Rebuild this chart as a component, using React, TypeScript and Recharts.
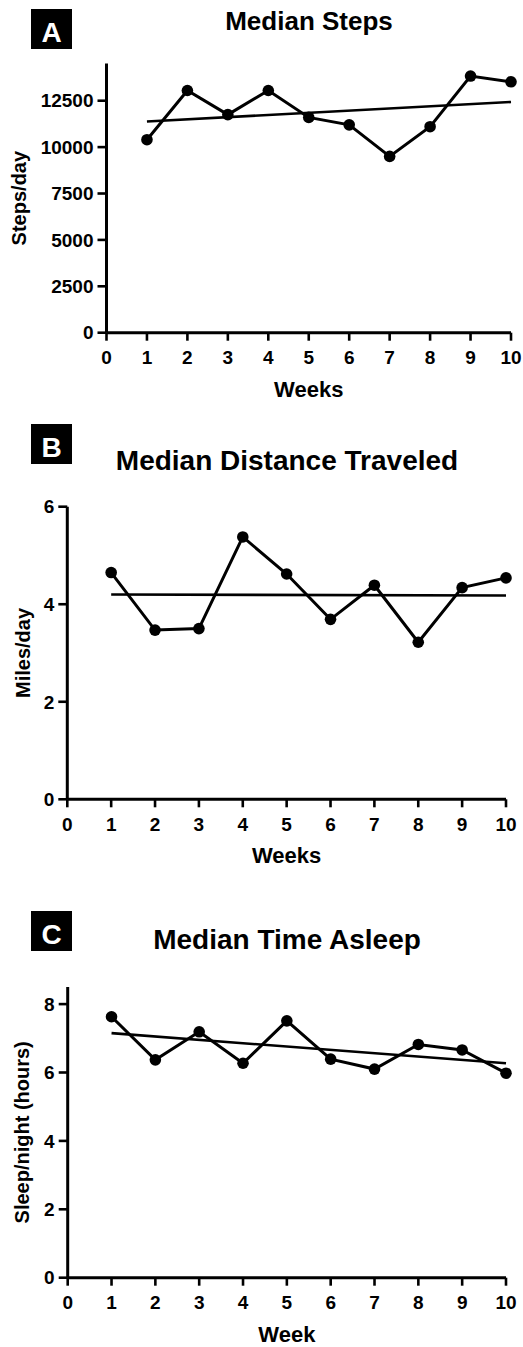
import React from 'react';
import { LineChart, Line, XAxis, YAxis } from 'recharts';

const weeks = [1, 2, 3, 4, 5, 6, 7, 8, 9, 10];
const weekTicks = [0, 1, 2, 3, 4, 5, 6, 7, 8, 9, 10];
const trendWeeks = [1, 10];

const medianSteps = [10400, 13050, 11750, 13050, 11600, 11200, 9500, 11100, 13830, 13520];
const stepsTrend = [11380, 12430];
const stepsTicks = [0, 2500, 5000, 7500, 10000, 12500];

const medianMiles = [4.65, 3.47, 3.5, 5.38, 4.62, 3.69, 4.39, 3.22, 4.34, 4.54];
const milesTrend = [4.2, 4.18];
const milesTicks = [0, 2, 4, 6];

const medianSleep = [7.63, 6.37, 7.19, 6.27, 7.51, 6.39, 6.1, 6.82, 6.66, 5.98];
const sleepTrend = [7.15, 6.27];
const sleepTicks = [0, 2, 4, 6, 8];

const FONT = '"Liberation Sans", Arial, Helvetica, sans-serif';

const toSeries = (vals: number[]) => weeks.map((w, i) => ({ week: w, v: vals[i] }));
const toTrend = (vals: number[]) => trendWeeks.map((w, i) => ({ week: w, v: vals[i] }));

type PanelProps = {
  top: number;
  height: number;
  margin: { top: number; right: number; bottom: number; left: number };
  yWidth: number;
  xHeight: number;
  xLabelOffset: number;
  yLabelOffset: number;
  domain: [number, number];
  yTicks: number[];
  values: number[];
  trend: number[];
  xLabel: string;
  yLabel: string;
};

const tickStyle = { fill: '#000', fontSize: 19, fontWeight: 700, fontFamily: FONT };

function Panel(p: PanelProps) {
  return (
    <div style={{ position: 'absolute', left: 0, top: p.top, width: 523, height: p.height }}>
      <LineChart width={523} height={p.height} margin={p.margin} data={toSeries(p.values)}>
        <XAxis
          dataKey="week"
          type="number"
          domain={[0, 10]}
          ticks={weekTicks}
          interval={0}
          height={p.xHeight}
          axisLine={{ stroke: '#000', strokeWidth: 3 }}
          tickLine={{ stroke: '#000', strokeWidth: 2.6 }}
          tickSize={8}
          tickMargin={10}
          tick={tickStyle}
          label={{
            value: p.xLabel,
            position: 'insideBottom',
            offset: p.xLabelOffset,
            style: { fill: '#000', fontSize: 22, fontWeight: 700, fontFamily: FONT },
          }}
        />
        <YAxis
          type="number"
          domain={p.domain}
          ticks={p.yTicks}
          interval={0}
          width={p.yWidth}
          axisLine={{ stroke: '#000', strokeWidth: 3 }}
          tickLine={{ stroke: '#000', strokeWidth: 2.6 }}
          tickSize={9}
          tickMargin={4}
          tick={tickStyle}
          label={{
            value: p.yLabel,
            angle: -90,
            position: 'insideLeft',
            offset: p.yLabelOffset,
            style: { textAnchor: 'middle', fill: '#000', fontSize: 20, fontWeight: 700, fontFamily: FONT },
          }}
        />
        <Line
          data={toTrend(p.trend)}
          dataKey="v"
          stroke="#000"
          strokeWidth={2.6}
          dot={false}
          activeDot={false}
          isAnimationActive={false}
          type="linear"
        />
        <Line
          dataKey="v"
          stroke="#000"
          strokeWidth={3}
          dot={{ r: 5.8, fill: '#000', stroke: '#000', strokeWidth: 0 }}
          activeDot={false}
          isAnimationActive={false}
          type="linear"
        />
      </LineChart>
    </div>
  );
}

function Overlay() {
  const letters = [
    { ch: 'A', top: 9 },
    { ch: 'B', top: 424 },
    { ch: 'C', top: 911 },
  ];
  const titles = [
    { text: 'Median Steps', x: 309, y: 30, size: 26 },
    { text: 'Median Distance Traveled', x: 287, y: 469.5, size: 28 },
    { text: 'Median Time Asleep', x: 287, y: 949, size: 28 },
  ];
  return (
    <svg
      width={523}
      height={1347}
      style={{ position: 'absolute', left: 0, top: 0, pointerEvents: 'none' }}
    >
      {letters.map((l) => (
        <g key={l.ch}>
          <rect x={31} y={l.top} width={41} height={40} fill="#000" />
          <text
            x={51.5}
            y={l.top + 32.5}
            textAnchor="middle"
            fill="#fff"
            fontSize={28}
            fontWeight={700}
            fontFamily={FONT}
          >
            {l.ch}
          </text>
        </g>
      ))}
      {titles.map((t) => (
        <text
          key={t.text}
          x={t.x}
          y={t.y}
          textAnchor="middle"
          fill="#000"
          fontSize={t.size}
          fontWeight={700}
          fontFamily={FONT}
        >
          {t.text}
        </text>
      ))}
    </svg>
  );
}

export default function App() {
  return (
    <div style={{ position: 'absolute', left: 0, top: 0, width: 523, height: 1347, background: '#fff' }}>
      <Panel
        top={0}
        height={410}
        margin={{ top: 63.6, right: 12, bottom: 7.3, left: 0 }}
        yWidth={106.5}
        xHeight={70}
        xLabelOffset={6}
        yLabelOffset={18.5}
        domain={[0, 14500]}
        yTicks={stepsTicks}
        values={medianSteps}
        trend={stepsTrend}
        xLabel="Weeks"
        yLabel="Steps/day"
      />
      <Panel
        top={420}
        height={460}
        margin={{ top: 86.7, right: 17, bottom: 10.7, left: 0 }}
        yWidth={67.3}
        xHeight={70}
        xLabelOffset={6}
        yLabelOffset={23}
        domain={[0, 6]}
        yTicks={milesTicks}
        values={medianMiles}
        trend={milesTrend}
        xLabel="Weeks"
        yLabel="Miles/day"
      />
      <Panel
        top={870}
        height={477}
        margin={{ top: 117, right: 17, bottom: 1.3, left: 0 }}
        yWidth={67.7}
        xHeight={68}
        xLabelOffset={4}
        yLabelOffset={22}
        domain={[0, 8.5]}
        yTicks={sleepTicks}
        values={medianSleep}
        trend={sleepTrend}
        xLabel="Week"
        yLabel="Sleep/night (hours)"
      />
      <Overlay />
    </div>
  );
}
